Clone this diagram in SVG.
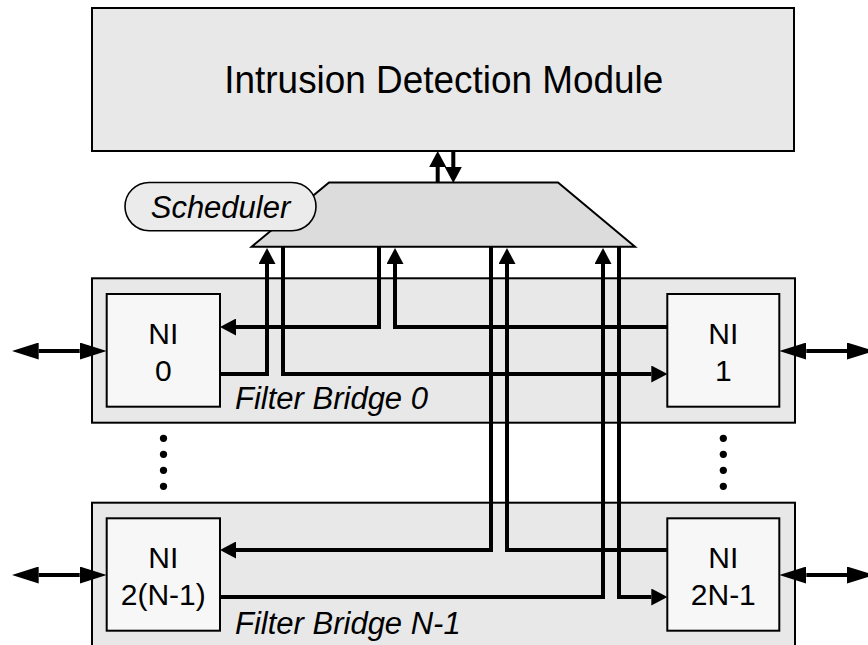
<svg xmlns="http://www.w3.org/2000/svg" width="868" height="645" viewBox="0 0 868 645">
<style>
.box{stroke:#000;stroke-width:2}
.idm{fill:#e8e8e8}
.fb{fill:#e8e8e8}
.ni{fill:#f7f7f7}
.sched{fill:#dcdcdc;stroke:#000;stroke-width:2}
.pill{fill:#ebebeb;stroke:#000;stroke-width:1.6}
.t{font-family:"Liberation Sans",Arial,Helvetica,sans-serif;fill:#000;text-anchor:middle}
.it{font-family:"Liberation Sans",Arial,Helvetica,sans-serif;font-style:italic;fill:#000}
.c{fill:none;stroke:#000;stroke-width:4;stroke-linejoin:miter}
.ce{marker-end:url(#ah)}
.dbl{marker-start:url(#ahL);marker-end:url(#ahL)}
</style>
<defs>
<marker id="ah" markerUnits="userSpaceOnUse" viewBox="0 0 16 17" markerWidth="16" markerHeight="17" refX="0" refY="8.5" orient="auto">
<path d="M0,0 L16,8.5 L0,17 z" fill="#000"/>
</marker>
<marker id="ahL" markerUnits="userSpaceOnUse" viewBox="0 0 27 17" markerWidth="27" markerHeight="17" refX="0" refY="8.5" orient="auto-start-reverse">
<path d="M0,0 L27,8.5 L0,17 z" fill="#000"/>
</marker>
</defs>

<g id="idm">
<rect class="box idm" x="92" y="8" width="702" height="143"/>
<text class="t" x="443.8" y="92.7" font-size="38" textLength="439" lengthAdjust="spacingAndGlyphs">Intrusion Detection Module</text>
</g>

<g id="fb0">
<rect class="box fb" x="92" y="278.3" width="703" height="144.4"/>
<text class="it" x="235" y="409.3" font-size="31">Filter Bridge 0</text>
</g>

<g id="fbn1">
<rect class="box fb" x="92" y="502.7" width="703" height="144.4"/>
<text class="it" x="235" y="633.7" font-size="31">Filter Bridge N-1</text>
</g>

<g id="scheduler">
<polygon class="sched" points="329,182.5 558,182.5 635,246.7 251.7,246.7"/>
</g>

<g id="scheduler-label">
<rect class="pill" x="125" y="182.5" width="191" height="48.2" rx="24.1" ry="24.1"/>
<text class="it" x="220.5" y="218.3" font-size="31" text-anchor="middle">Scheduler</text>
</g>

<g id="ni0">
<rect class="box ni" x="106.7" y="294" width="113.3" height="112.7"/>
<text class="t" x="163.3" y="344" font-size="30">NI</text>
<text class="t" x="163.3" y="381" font-size="30">0</text>
</g>

<g id="ni1">
<rect class="box ni" x="667.3" y="294" width="112" height="112.7"/>
<text class="t" x="723.3" y="344" font-size="30">NI</text>
<text class="t" x="723.3" y="381" font-size="30">1</text>
</g>

<g id="ni2n-2">
<rect class="box ni" x="106.7" y="518.3" width="113.3" height="112.4"/>
<text class="t" x="163.3" y="568.3" font-size="30">NI</text>
<text class="t" x="163.3" y="605" font-size="30">2(N-1)</text>
</g>

<g id="ni2n-1">
<rect class="box ni" x="667.3" y="518.3" width="112" height="112.4"/>
<text class="t" x="723.3" y="568.3" font-size="30">NI</text>
<text class="t" x="723.3" y="605" font-size="30">2N-1</text>
</g>

<g id="dots">
<circle cx="163.5" cy="438.3" r="3.6"/>
<circle cx="163.5" cy="454.3" r="3.6"/>
<circle cx="163.5" cy="470.3" r="3.6"/>
<circle cx="163.5" cy="486.3" r="3.6"/>
<circle cx="723.3" cy="438.3" r="3.6"/>
<circle cx="723.3" cy="454.3" r="3.6"/>
<circle cx="723.3" cy="470.3" r="3.6"/>
<circle cx="723.3" cy="486.3" r="3.6"/>
</g>

<g id="connectors">
<!-- IDM <-> scheduler -->
<path class="c ce" d="M437.7,182.5 V167"/>
<path class="c ce" d="M453.3,151 V167"/>
<!-- NI0 out -> scheduler -->
<path class="c ce" d="M220,374 H267 V264"/>
<!-- scheduler -> NI1 -->
<path class="c ce" d="M283,246.7 V374 H651.3"/>
<!-- scheduler -> NI0 -->
<path class="c ce" d="M379,246.7 V327 H236"/>
<!-- NI1 out -> scheduler -->
<path class="c ce" d="M667.3,327 H395 V264"/>
<!-- scheduler -> NI 2(N-1) -->
<path class="c ce" d="M491,246.7 V550 H236"/>
<!-- NI 2N-1 out -> scheduler -->
<path class="c ce" d="M667.3,550 H507 V264"/>
<!-- NI 2(N-1) out -> scheduler -->
<path class="c ce" d="M220,597 H603 V264"/>
<!-- scheduler -> NI 2N-1 -->
<path class="c ce" d="M619,246.7 V597 H651.3"/>
<!-- external double arrows -->
<path class="c dbl" d="M38.7,351 H79.7"/>
<path class="c dbl" d="M806.3,351 H847"/>
<path class="c dbl" d="M38.7,575 H79.7"/>
<path class="c dbl" d="M806.3,575 H847"/>
</g>
</svg>
